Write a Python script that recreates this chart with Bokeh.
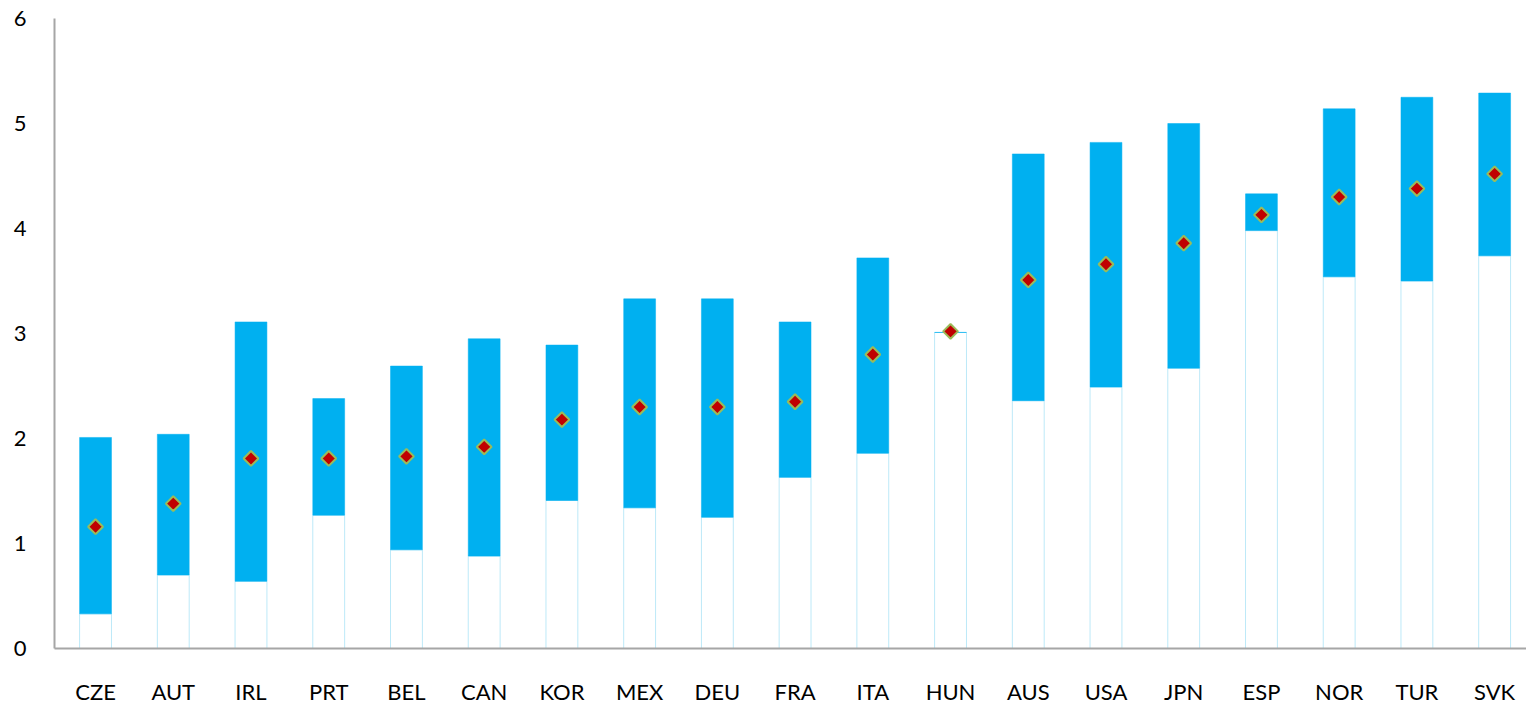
from bokeh.plotting import figure
from bokeh.models import Range1d, FixedTicker, ColumnDataSource
from bokeh.embed import file_html
from bokeh.resources import INLINE
import numpy as np

countries = ["CZE", "AUT", "IRL", "PRT", "BEL", "CAN", "KOR", "MEX", "DEU", "FRA",
             "ITA", "HUN", "AUS", "USA", "JPN", "ESP", "NOR", "TUR", "SVK"]
low = [0.33, 0.70, 0.64, 1.27, 0.94, 0.88, 1.41, 1.34, 1.25, 1.63,
       1.86, 3.01, 2.36, 2.49, 2.67, 3.98, 3.54, 3.50, 3.74]
high = [2.01, 2.04, 3.11, 2.38, 2.69, 2.95, 2.89, 3.33, 3.33, 3.11,
        3.72, 3.01, 4.71, 4.82, 5.00, 4.33, 5.14, 5.25, 5.29]
mid = [1.16, 1.38, 1.81, 1.81, 1.83, 1.92, 2.18, 2.30, 2.30, 2.35,
       2.80, 3.02, 3.51, 3.66, 3.86, 4.13, 4.30, 4.38, 4.52]
y_ticks = [0, 1, 2, 3, 4, 5, 6]

idx = list(range(len(countries)))
src = ColumnDataSource(dict(x=idx, low=low, high=high, mid=mid, zero=[0] * len(idx)))

p = figure(width=1526, height=707, output_backend="svg", toolbar_location=None,
           x_range=Range1d(-0.528, 18.41), y_range=Range1d(0, 6),
           min_border_left=54, min_border_right=0, min_border_top=18, min_border_bottom=59)
p.outline_line_color = None
p.xgrid.grid_line_color = None
p.ygrid.grid_line_color = None
p.background_fill_color = "white"

# base (invisible) bars from 0 to low
p.vbar(x="x", bottom="zero", top="low", width=0.41, source=src,
       fill_color="white", line_color="#BDE9F8", line_width=1)
# range bars
p.vbar(x="x", bottom="low", top="high", width=0.41, source=src,
       fill_color="#00B0F0", line_color="#00B0F0", line_width=0.5)
# mid markers
p.scatter(x="x", y="mid", source=src, marker="square", angle=np.pi / 4, size=10.5,
          fill_color="#C00000", line_color="#9BBB59", line_width=2)

font = "Lato"
for ax in (p.xaxis[0], p.yaxis[0]):
    ax.axis_line_color = "#A6A6A6"
    ax.axis_line_width = 2
    ax.major_tick_line_color = None
    ax.minor_tick_line_color = None
    ax.major_tick_out = 0
    ax.major_tick_in = 0
    ax.minor_tick_out = 0
    ax.major_label_text_font = font
    ax.major_label_text_font_size = "22px"
    ax.major_label_text_color = "#000000"

p.xaxis.ticker = FixedTicker(ticks=idx)
p.xaxis.major_label_overrides = {i: c for i, c in enumerate(countries)}
p.xaxis.major_label_standoff = 29
p.yaxis.ticker = FixedTicker(ticks=y_ticks)
p.yaxis.major_label_standoff = 28

open("out.html", "w").write(file_html(p, INLINE))
